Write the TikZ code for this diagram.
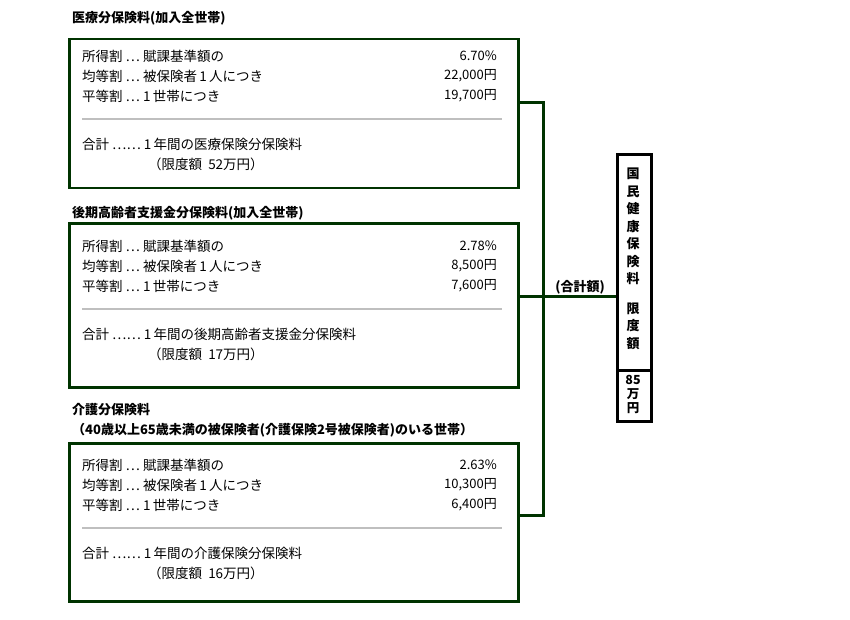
\documentclass[tikz,border=0pt]{standalone}
\usepackage{fontspec}
\setmainfont{Noto Sans CJK JP}
\begin{document}
\begin{tikzpicture}[x=1pt,y=-1pt,
  box/.style={draw=green!20!black,line width=2.5pt},
  conn/.style={draw=green!20!black,line width=3pt},
  txt/.style={anchor=west,inner sep=0,font=\fontsize{13.5}{15}\selectfont},
  val/.style={anchor=east,inner sep=0,font=\fontsize{13}{15}\selectfont},
  ttl/.style={anchor=west,inner sep=0,font=\fontsize{13}{15}\selectfont\bfseries},
  sep/.style={draw=gray!50,line width=2.5pt}]
\useasboundingbox (0,0) rectangle (850,620);
\newcommand{\panel}[9]{%
  \node[box,minimum width=449,minimum height=#3,anchor=north west,inner sep=0] (#1) at (68,#2) {};
  \node[txt] at (82,#4) {所得割 … 賦課基準額の};
  \node[val] at (497,#4) {#5};
  \node[txt] at (82,#4+20) {均等割 … 被保険者\,1\,人につき};
  \node[val] at (497,#4+20) {#6};
  \node[txt] at (82,#4+40) {平等割 … 1\,世帯につき};
  \node[val] at (497,#4+40) {#7};
  \draw[sep] (82,#4+63) -- (502,#4+63);
  \node[txt] at (82,#4+88) {合計 …… 1\,年間の#8};
  \node[txt] at (148,#4+108) {（限度額\ \ #9）};
}
\node[ttl] at (72,18) {医療分保険料(加入全世帯)};
\panel{b1}{38}{149}{56}{6.70\%}{22,000円}{19,700円}{医療保険分保険料}{52万円}
\node[ttl] at (72,213) {後期高齢者支援金分保険料(加入全世帯)};
\panel{b2}{222}{164}{246}{2.78\%}{8,500円}{7,600円}{後期高齢者支援金分保険料}{17万円}
\node[ttl] at (72,410) {介護分保険料};
\node[ttl] at (72,430) {（40歳以上65歳未満の被保険者(介護保険2号被保険者)のいる世帯）};
\panel{b3}{442}{158}{465}{2.63\%}{10,300円}{6,400円}{介護保険分保険料}{16万円}
% right box
\node[draw,line width=3pt,minimum width=34,minimum height=267,anchor=north west,inner sep=0] (r) at (616,153) {};
\draw[line width=3pt] (616,370) -- (650,370);
\node[inner sep=0,font=\fontsize{13}{17.5}\selectfont\bfseries,align=center,anchor=north] (rt) at (633,168) {国\\民\\健\\康\\保\\険\\料\\[12pt]限\\度\\額};
\node[inner sep=0,font=\fontsize{12.5}{14}\selectfont\bfseries,align=center,anchor=north] (rv) at (633,375) {85\\万\\円};
% connectors
\coordinate (j1) at (543,103);
\coordinate (j2) at (543,296);
\coordinate (j3) at (543,515);
\draw[conn] (b1.east |- j1) -- (j1) -- (j3) -- (b3.east |- j3);
\draw[conn] (b2.east |- j2) -- (r.west |- j2);
\node[anchor=south,inner sep=1,font=\fontsize{13}{15}\selectfont\bfseries] at (580,295) {(合計額)};
\end{tikzpicture}
\end{document}
